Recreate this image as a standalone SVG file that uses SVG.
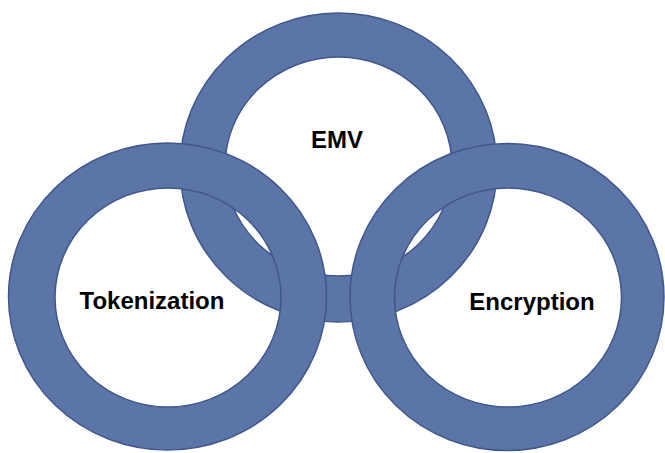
<svg xmlns="http://www.w3.org/2000/svg" width="665" height="453" viewBox="0 0 665 453">
<style>
.ring{fill:#5b75a9;stroke:#41578a;stroke-width:1.5;fill-rule:evenodd}
.lbl{font-family:"Liberation Sans",Arial,sans-serif;font-weight:bold;font-size:24px;fill:#000;text-anchor:middle}
</style>
<rect width="665" height="453" fill="#ffffff"/>
<g id="ring-emv">
<path class="ring" d="M180,167.5 a158.5,154.5 0 1,0 317,0 a158.5,154.5 0 1,0 -317,0 Z M225,166.5 a113.5,109.5 0 1,0 227,0 a113.5,109.5 0 1,0 -227,0 Z"/>
<text class="lbl" x="337" y="148">EMV</text>
</g>
<g id="ring-tokenization">
<path class="ring" d="M8.5,296.5 a159,153.5 0 1,0 318,0 a159,153.5 0 1,0 -318,0 Z M55,297.5 a113,109.5 0 1,0 226,0 a113,109.5 0 1,0 -226,0 Z"/>
<text class="lbl" x="152" y="309">Tokenization</text>
</g>
<g id="ring-encryption">
<path class="ring" d="M350,297 a157,153.5 0 1,0 314,0 a157,153.5 0 1,0 -314,0 Z M394.5,297.5 a113.5,109.5 0 1,0 227,0 a113.5,109.5 0 1,0 -227,0 Z"/>
<text class="lbl" x="532" y="310">Encryption</text>
</g>
</svg>
